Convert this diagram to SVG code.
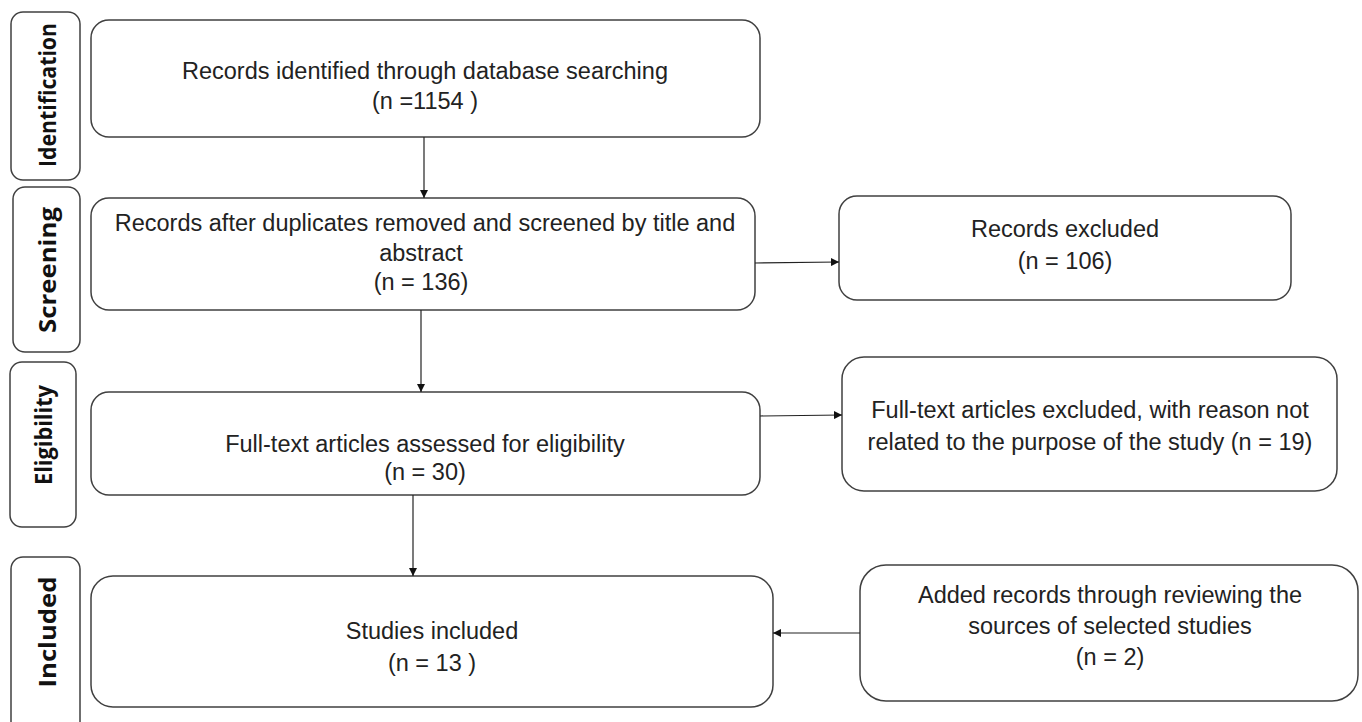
<svg xmlns="http://www.w3.org/2000/svg" width="1362" height="722" viewBox="0 0 1362 722">
<style>
.box{fill:#fff;stroke:#404040;stroke-width:1.5}
.t{font-family:"Liberation Sans",Arial,sans-serif;font-size:23.5px;fill:#222;text-anchor:middle}
.ph{font-family:"Open Sans","Liberation Sans",sans-serif;font-size:23px;font-weight:bold;fill:#111;text-anchor:middle}
.c{stroke:#222;stroke-width:1.2;fill:none;marker-end:url(#ah)}
</style>
<defs>
<marker id="ah" viewBox="0 0 10 10" refX="10" refY="5" markerWidth="8" markerHeight="8" markerUnits="userSpaceOnUse" orient="auto">
<path d="M0,0 L10,5 L0,10 z" fill="#111"/>
</marker>
</defs>
<rect width="1362" height="722" fill="#fff"/>
<g id="phase-identification"><rect class="box" x="11" y="12" width="69" height="168" rx="12"/><text class="ph" transform="translate(56,95) rotate(-90)" textLength="144" lengthAdjust="spacingAndGlyphs">Identification</text></g>
<g id="phase-screening"><rect class="box" x="13" y="187" width="67" height="165" rx="12"/><text class="ph" transform="translate(56,270) rotate(-90)" textLength="126" lengthAdjust="spacingAndGlyphs">Screening</text></g>
<g id="phase-eligibility"><rect class="box" x="10" y="362" width="66" height="165" rx="12"/><text class="ph" transform="translate(52,435) rotate(-90)" textLength="100" lengthAdjust="spacingAndGlyphs">Eligibility</text></g>
<g id="phase-included"><rect class="box" x="11" y="557" width="69" height="180" rx="12"/><text class="ph" transform="translate(56,632) rotate(-90)" textLength="111" lengthAdjust="spacingAndGlyphs">Included</text></g>

<g id="n1"><rect class="box" x="91" y="20" width="669" height="117" rx="18"/><text class="t" x="425" y="79">Records identified through database searching</text><text class="t" x="425" y="109">(n =1154 )</text></g>
<g id="n2"><rect class="box" x="91" y="198" width="664" height="112" rx="18"/><text class="t" x="425" y="231">Records after duplicates removed and screened by title and</text><text class="t" x="421" y="261">abstract</text><text class="t" x="421" y="290">(n = 136)</text></g>
<g id="n3"><rect class="box" x="839" y="196" width="452" height="104" rx="18"/><text class="t" x="1065" y="237">Records excluded</text><text class="t" x="1065" y="269">(n = 106)</text></g>
<g id="n4"><rect class="box" x="91" y="392" width="669" height="103" rx="18"/><text class="t" x="425" y="452">Full-text articles assessed for eligibility</text><text class="t" x="425" y="480">(n = 30)</text></g>
<g id="n5"><rect class="box" x="842" y="357" width="495" height="134" rx="22"/><text class="t" x="1090" y="418">Full-text articles excluded, with reason not</text><text class="t" x="1090" y="450">related to the purpose of the study (n = 19)</text></g>
<g id="n6"><rect class="box" x="91" y="576" width="682" height="131" rx="22"/><text class="t" x="432" y="639">Studies included</text><text class="t" x="432" y="671">(n = 13 )</text></g>
<g id="n7"><rect class="box" x="860" y="565" width="498" height="136" rx="26"/><text class="t" x="1110" y="603">Added records through reviewing the</text><text class="t" x="1110" y="634">sources of selected studies</text><text class="t" x="1110" y="665">(n = 2)</text></g>

<g id="connectors">
<line class="c" x1="424" y1="137" x2="424" y2="198"/>
<line class="c" x1="755" y1="263" x2="839" y2="262"/>
<line class="c" x1="421" y1="310" x2="421" y2="392"/>
<line class="c" x1="760" y1="416" x2="842" y2="415"/>
<line class="c" x1="413" y1="495" x2="413" y2="576"/>
<line class="c" x1="860" y1="633" x2="773" y2="633"/>
</g>
</svg>
